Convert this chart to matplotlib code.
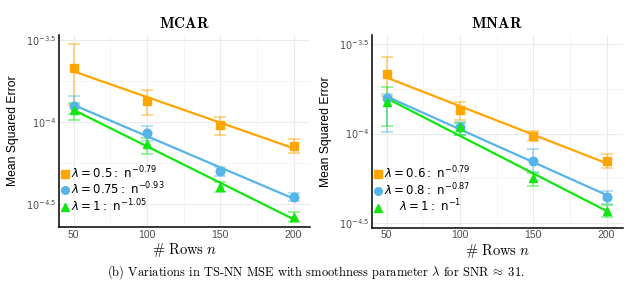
import numpy as np
import matplotlib
matplotlib.use("Agg")
import matplotlib.pyplot as plt
from matplotlib.lines import Line2D

plt.rcParams['mathtext.fontset'] = 'cm'
plt.rcParams['font.family'] = ['Liberation Sans', 'DejaVu Sans']

rows = np.array([50, 100, 150, 200])

# log10 MSE values, (center, upper, lower) per panel / series
mcar_labels = [r"$\lambda = 0.5:\ \mathrm{n}^{-0.79}$",
               r"$\lambda = 0.75:\ \mathrm{n}^{-0.93}$",
               r"$\lambda = 1:\ \mathrm{n}^{-1.05}$"]
mcar_mid = [[-3.673, -3.870, -4.018, -4.144],
            [-3.902, -4.067, -4.299, -4.459],
            [-3.927, -4.136, -4.394, -4.581]]
mcar_hi = [[-3.524, -3.805, -3.968, -4.102],
           [-3.841, -4.022, -4.273, -4.435],
           [-3.886, -4.100, -4.364, -4.551]]
mcar_lo = [[-3.896, -3.957, -4.079, -4.187],
           [-3.950, -4.114, -4.329, -4.482],
           [-3.988, -4.195, -4.424, -4.612]]

mnar_labels = [r"$\lambda = 0.6:\ \mathrm{n}^{-0.79}$",
               r"$\lambda = 0.8:\ \mathrm{n}^{-0.87}$",
               r"$\quad\ \lambda = 1:\ \mathrm{n}^{-1}$"]
mnar_mid = [[-3.668, -3.868, -4.014, -4.154],
            [-3.803, -3.962, -4.154, -4.354],
            [-3.825, -3.965, -4.248, -4.434]]
mnar_hi = [[-3.573, -3.825, -3.986, -4.115],
           [-3.780, -3.934, -4.089, -4.322],
           [-3.738, -3.940, -4.220, -4.400]]
mnar_lo = [[-3.790, -3.924, -4.042, -4.195],
           [-3.993, -4.008, -4.214, -4.395],
           [-3.958, -4.008, -4.293, -4.470]]

colors = ["#FFA500", "#56B4E9", "#11E611"]
markers = ["s", "o", "^"]
titles = ["MCAR", "MNAR"]
ytick_vals = [-4.5, -4.0, -3.5]
ytick_labels = [r"$10^{-4.5}$", r"$10^{-4}$", r"$10^{-3.5}$"]

fig = plt.figure(figsize=(6.4, 2.96), dpi=100)
axes_rects = [[0.092, 0.233, 0.392, 0.649], [0.581, 0.231, 0.392, 0.650]]
ylims = [(-4.64, -3.47), (-4.528, -3.448)]

panels = [(mcar_labels, mcar_mid, mcar_hi, mcar_lo),
          (mnar_labels, mnar_mid, mnar_hi, mnar_lo)]

for k, (labels, mid, hi, lo) in enumerate(panels):
    ax = fig.add_axes(axes_rects[k])
    ax.set_yscale('log')
    handles = []
    for i in range(3):
        ym = np.array(mid[i])
        m = 10 ** ym
        h = 10 ** np.array(hi[i])
        l = 10 ** np.array(lo[i])
        # linear fit of log10(MSE) against rows (straight line on this scale)
        b, a = np.polyfit(rows, ym, 1)
        xs = np.array([rows.min(), rows.max()])
        ax.plot(xs, 10 ** (a + b * xs), color=colors[i], lw=1.6, zorder=3,
                solid_capstyle='butt')
        ax.errorbar(rows, m, yerr=[m - l, h - m], fmt='none', ecolor=colors[i],
                    alpha=0.55, elinewidth=1.1, capsize=4.5, capthick=1.1, zorder=2)
        ax.plot(rows, m, linestyle='none', marker=markers[i], color=colors[i],
                markersize=5.8 if markers[i] != 'o' else 6.2, zorder=4)
        handles.append(Line2D([], [], linestyle='none', marker=markers[i],
                              color=colors[i], markersize=5.5))
    ax.set_xlim(40, 211)
    ax.set_ylim(10 ** ylims[k][0], 10 ** ylims[k][1])
    ax.set_xticks(rows)
    ax.set_xticks([75, 125, 175], minor=True)
    ax.set_yticks([10 ** v for v in ytick_vals])
    ax.set_yticklabels(ytick_labels)
    ax.set_yticks([10 ** -4.25, 10 ** -3.75], minor=True)
    ax.yaxis.set_minor_formatter(plt.NullFormatter())
    ax.grid(True, which='major', color='#ebebeb', lw=0.8)
    ax.grid(True, which='minor', color='#f4f4f4', lw=0.6)
    ax.set_axisbelow(True)
    ax.tick_params(which='both', length=0)
    ax.tick_params(axis='x', labelsize=7.5, labelcolor='#4d4d4d', pad=2)
    ax.tick_params(axis='y', labelsize=7, labelcolor='#4d4d4d', pad=2)
    for t in ax.get_yticklabels():
        t.set_math_fontfamily('dejavusans')
    for s in ['top', 'right']:
        ax.spines[s].set_visible(False)
    for s in ['left', 'bottom']:
        ax.spines[s].set_linewidth(1.1)
        ax.spines[s].set_color('black')
    ax.set_ylabel("Mean Squared Error", fontsize=8.7, labelpad=5)
    ax.set_xlabel(r"$\#\ \mathrm{Rows}\ n$", fontsize=10.5, labelpad=1)
    ax.set_title(r"$\mathbf{%s}$" % titles[k], fontsize=11, pad=5)
    leg = ax.legend(handles, labels, loc='lower left', frameon=False,
                    fontsize=8.5, handlelength=0.7, handletextpad=0.1,
                    labelspacing=0.0, borderaxespad=0.0, borderpad=0.2,
                    bbox_to_anchor=(0.0, 0.055))
    for t in leg.get_texts():
        t.set_math_fontfamily('dejavusans')

fig.text(0.494, 0.08,
         r"(b) Variations in TS-NN MSE with smoothness parameter $\lambda$ for $\mathrm{SNR}\;\approx\;31$.",
         ha='center', va='center', fontsize=9.0, family=['cmr10', 'DejaVu Serif'],
         math_fontfamily='cm')

fig.savefig("out.png", dpi=100)
